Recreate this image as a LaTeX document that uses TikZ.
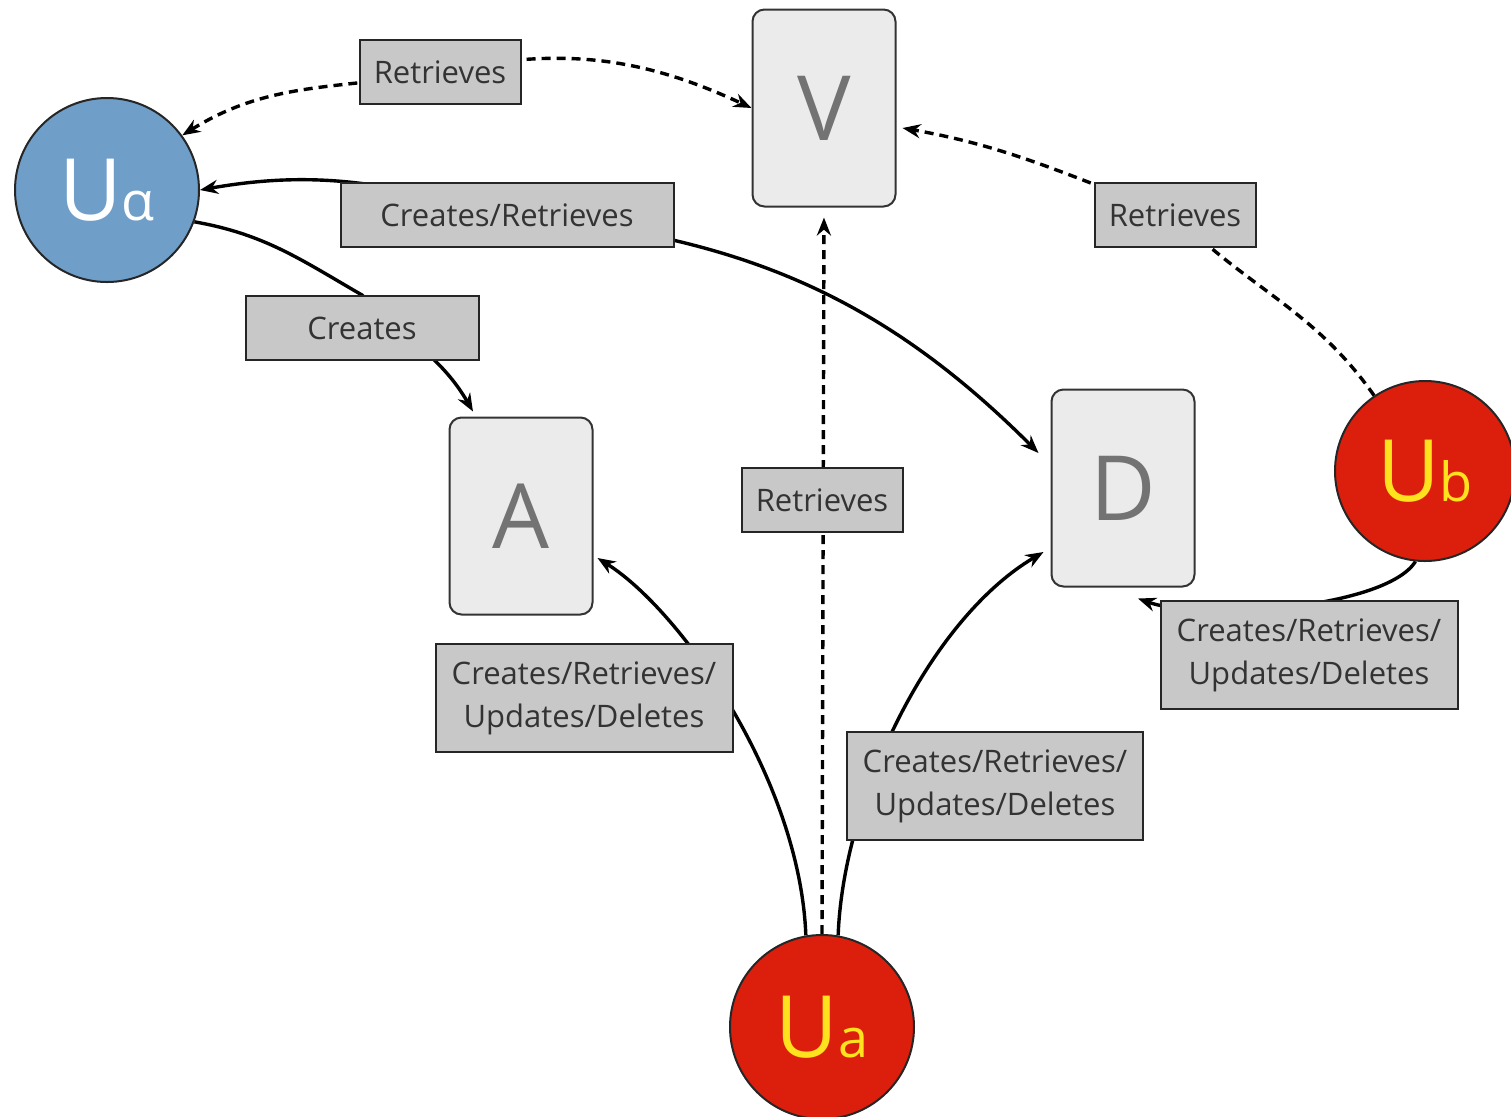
\documentclass[tikz,border=0pt]{standalone}
\usepackage{fontspec}
\setmainfont{Open Sans}
\usetikzlibrary{arrows.meta,backgrounds}
\definecolor{ublue}{RGB}{111,158,201}
\definecolor{ured}{RGB}{220,30,12}
\definecolor{uyel}{RGB}{255,226,30}
\definecolor{boxfill}{RGB}{235,235,235}
\definecolor{lblfill}{RGB}{200,200,200}
\begin{document}
\begin{tikzpicture}[x=0.5pt,y=0.5pt,
  >={Stealth[length=9pt,width=7pt]},
  usercircle/.style={circle,draw=black!85,line width=1pt,minimum size=92pt,inner sep=0pt},
  objbox/.style={draw=black!80,line width=1pt,fill=boxfill,rounded corners=6pt,
    minimum width=71.5pt,minimum height=98.5pt,inner sep=0pt,text=black!55,
    font=\fontsize{45}{45}\selectfont},
  lbl/.style={draw=black!85,line width=1pt,fill=lblfill,text=black!80,align=center,
    inner sep=2pt,minimum height=32pt,font=\fontsize{15.5}{21.5}\selectfont},
  lbltwo/.style={lbl,minimum height=54pt},
  solidline/.style={line width=1.7pt,black},
  dashline/.style={line width=1.7pt,black,dash pattern=on 4.5pt off 3pt}
]
\useasboundingbox (0,0) rectangle (1511,-1116);

% users
\node[usercircle,fill=ublue,text=white] (ual) at (107,-190)
  {\fontsize{43}{43}\selectfont U\fontsize{27}{27}\selectfont α};
\node[usercircle,fill=ured,text=uyel] (uar) at (822,-1027)
  {\fontsize{43}{43}\selectfont U\fontsize{27}{27}\selectfont a};
\node[usercircle,fill=ured,text=uyel,minimum size=90pt] (ub) at (1425,-471)
  {\fontsize{43}{43}\selectfont U\fontsize{27}{27}\selectfont b};

% objects
\node[objbox] (V) at (824,-108) {V};
\node[objbox] (A) at (521,-516) {A};
\node[objbox] (D) at (1123,-488) {D};

% labels
\node[lbl,minimum width=80.5pt] (l1) at (440,-72) {Retrieves};
\node[lbl,minimum width=166.5pt] (l2) at (507,-215) {Creates/Retrieves};
\node[lbl,minimum width=116.5pt] (l3) at (362,-328) {Creates};
\node[lbl,minimum width=80.5pt] (l4) at (822,-500) {Retrieves};
\node[lbl,minimum width=80.5pt] (l5) at (1175,-215) {Retrieves};
\node[lbltwo,minimum width=148.5pt] (l6) at (584,-698) {Creates/Retrieves/\\Updates/Deletes};
\node[lbltwo,minimum width=148pt] (l7) at (995,-786) {Creates/Retrieves/\\Updates/Deletes};
\node[lbltwo,minimum width=148.5pt] (l8) at (1309,-655) {Creates/Retrieves/\\Updates/Deletes};

% arrow end points near the boxes
\coordinate (tipD2) at ([shift={(-6pt,17.5pt)}]D.west);
\coordinate (tipA3) at ([shift={(-24pt,2.5pt)}]A.north);
\coordinate (tipV5) at ([shift={(3pt,-10pt)}]V.east);
\coordinate (tipA6) at ([shift={(2pt,-21pt)}]A.east);
\coordinate (tipD7) at ([shift={(-3.5pt,-32pt)}]D.west);
\coordinate (tipD8) at ([shift={(7.5pt,-5.5pt)}]D.south);

\begin{pgfonlayer}{background}
  \draw[dashline,<->] (ual.36) to[out=32,in=190] (l1.center) to[out=12,in=155] (V.west);
  \draw[solidline,<->] (ual.east) to[out=10,in=165] (l2.center) to[out=-5,in=135] (tipD2);
  \draw[solidline,->] (ual.-20) to[out=-10,in=150] (l3.north) to[out=-45,in=120] (tipA3);
  \draw[dashline,->,shorten >=5pt] (uar.north) -- (V.south);
  \draw[dashline,->] (ub.124) to[out=125,in=-45] (l5.center) to[out=160,in=-10] (tipV5);
  \draw[solidline,->] (uar.100) .. controls +(-6,156) and +(83,-52) .. (tipA6);
  \draw[solidline,->] (uar.80) .. controls +(5,136) and +(-115,-68) .. (tipD7);
  \draw[solidline,->] (ub.-96) .. controls +(-30,-47) and +(65,-23) .. (tipD8);
\end{pgfonlayer}
\end{tikzpicture}
\end{document}
